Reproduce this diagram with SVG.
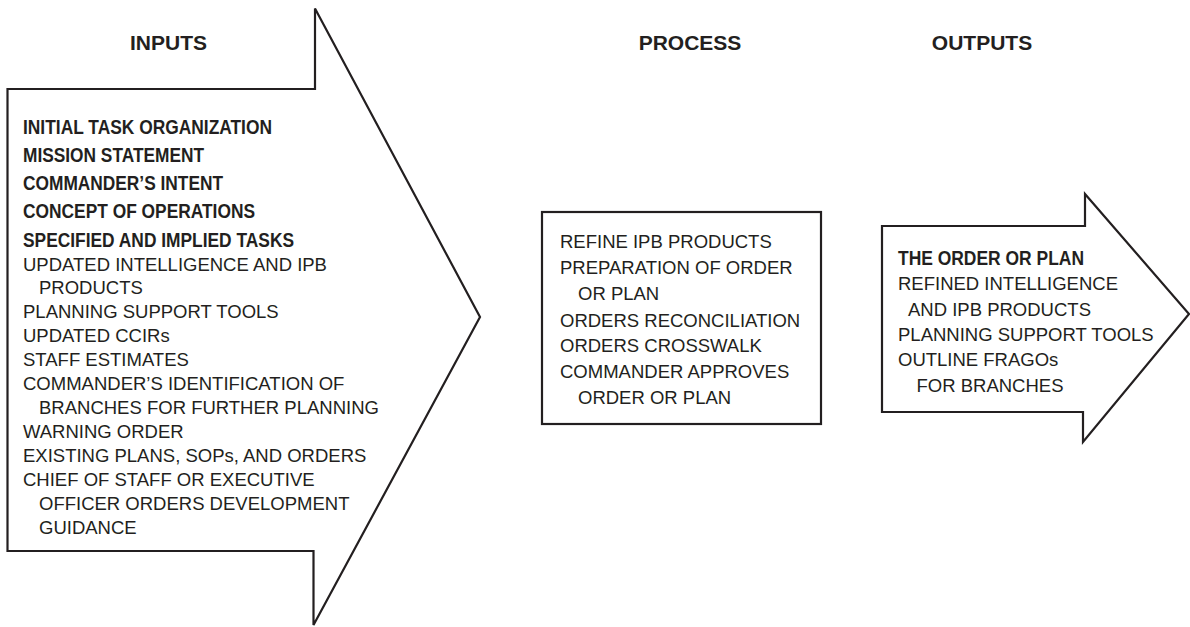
<svg xmlns="http://www.w3.org/2000/svg" width="1190" height="627" viewBox="0 0 1190 627">
<style>
.shape{fill:#fff;stroke:#231f20;stroke-width:2.2;stroke-linejoin:miter}
.h{font-family:"Liberation Sans",Arial,sans-serif;font-weight:bold;font-size:21px;fill:#231f20;text-anchor:middle}
.b{font-family:"Liberation Sans",Arial,sans-serif;font-weight:bold;font-size:20.5px;fill:#231f20}
.t{font-family:"Liberation Sans",Arial,sans-serif;font-size:18.5px;fill:#231f20}
</style>
<rect width="1190" height="627" fill="#fff"/>
<g id="inputs">
<polygon class="shape" points="7.5,89 315,89 315,8.5 480,317 313.5,625 313.5,551 7.5,551"/>
<text class="h" x="168.5" y="50">INPUTS</text>
<text class="b" x="23" y="134" textLength="249" lengthAdjust="spacingAndGlyphs">INITIAL TASK ORGANIZATION</text>
<text class="b" x="23" y="162" textLength="181" lengthAdjust="spacingAndGlyphs">MISSION STATEMENT</text>
<text class="b" x="23" y="190" textLength="200" lengthAdjust="spacingAndGlyphs">COMMANDER’S INTENT</text>
<text class="b" x="23" y="218.3" textLength="232" lengthAdjust="spacingAndGlyphs">CONCEPT OF OPERATIONS</text>
<text class="b" x="23" y="246.5" textLength="271" lengthAdjust="spacingAndGlyphs">SPECIFIED AND IMPLIED TASKS</text>
<text class="t" x="23" y="270.5">UPDATED INTELLIGENCE AND IPB</text>
<text class="t" x="39" y="294.3">PRODUCTS</text>
<text class="t" x="23" y="318.2">PLANNING SUPPORT TOOLS</text>
<text class="t" x="23" y="342">UPDATED CCIRs</text>
<text class="t" x="23" y="366">STAFF ESTIMATES</text>
<text class="t" x="23" y="390.2">COMMANDER’S IDENTIFICATION OF</text>
<text class="t" x="39" y="414.2">BRANCHES FOR FURTHER PLANNING</text>
<text class="t" x="23" y="438.2">WARNING ORDER</text>
<text class="t" x="23" y="462">EXISTING PLANS, SOPs, AND ORDERS</text>
<text class="t" x="23" y="486">CHIEF OF STAFF OR EXECUTIVE</text>
<text class="t" x="39" y="510">OFFICER ORDERS DEVELOPMENT</text>
<text class="t" x="39" y="534.2">GUIDANCE</text>
</g>
<g id="process">
<rect class="shape" x="542" y="212" width="279" height="212"/>
<text class="h" x="690" y="50">PROCESS</text>
<text class="t" x="560" y="248.3">REFINE IPB PRODUCTS</text>
<text class="t" x="560" y="274">PREPARATION OF ORDER</text>
<text class="t" x="578" y="300">OR PLAN</text>
<text class="t" x="560" y="326.5">ORDERS RECONCILIATION</text>
<text class="t" x="560" y="352.3">ORDERS CROSSWALK</text>
<text class="t" x="560" y="378.3">COMMANDER APPROVES</text>
<text class="t" x="578" y="404.3">ORDER OR PLAN</text>
</g>
<g id="outputs">
<polygon class="shape" points="882,226 1085,226 1085,194 1189,314 1083,442 1083,412 882,412"/>
<text class="h" x="982" y="50">OUTPUTS</text>
<text class="b" x="898" y="265" textLength="186" lengthAdjust="spacingAndGlyphs">THE ORDER OR PLAN</text>
<text class="t" x="898" y="290">REFINED INTELLIGENCE</text>
<text class="t" x="908" y="315.5">AND IPB PRODUCTS</text>
<text class="t" x="898" y="341">PLANNING SUPPORT TOOLS</text>
<text class="t" x="898" y="366.3">OUTLINE FRAGOs</text>
<text class="t" x="916.5" y="391.7">FOR BRANCHES</text>
</g>
<g id="connectors"></g>
</svg>
